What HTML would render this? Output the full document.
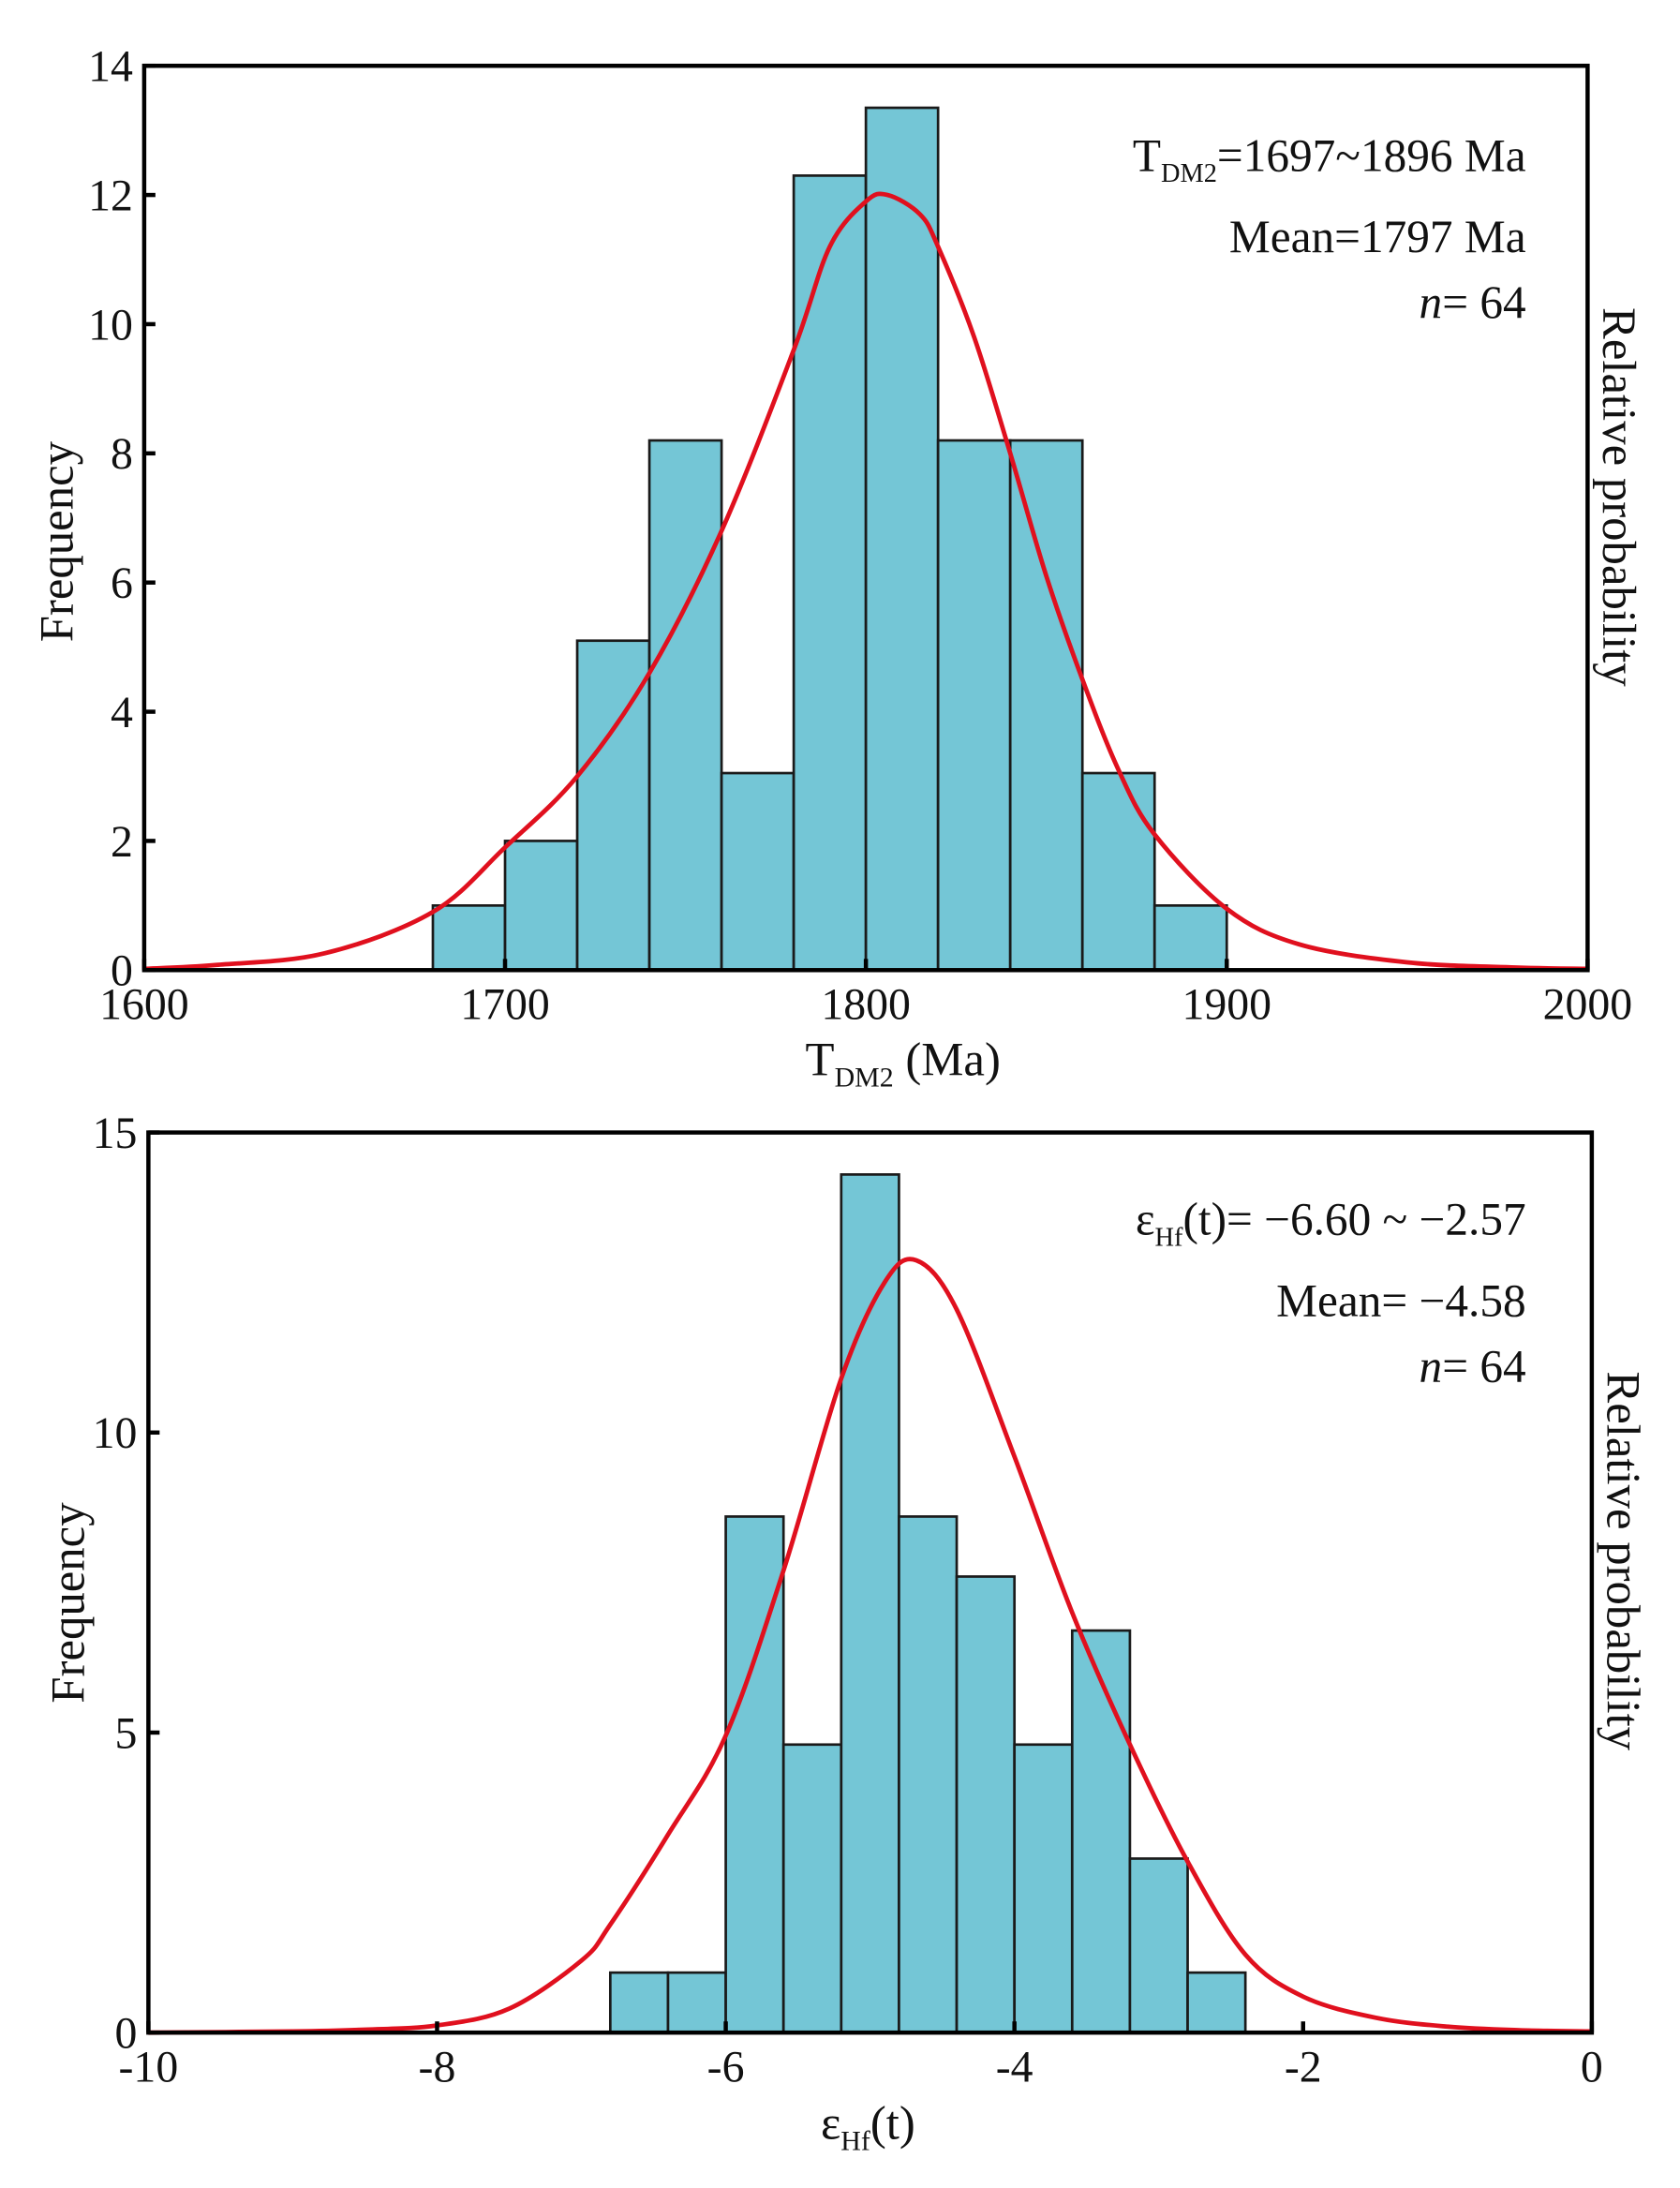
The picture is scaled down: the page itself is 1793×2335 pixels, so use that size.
<!DOCTYPE html>
<html><head><meta charset="utf-8"><style>
html,body{margin:0;padding:0;background:#fff}
svg{display:block}
text{font-family:"Liberation Serif",serif;fill:#111}
</style></head><body>
<svg id="fig" width="1793" height="2335" viewBox="0 0 1200 1563" preserveAspectRatio="none" xmlns="http://www.w3.org/2000/svg"></svg>
<script>
// ---- Panel A data (T_DM2)
const binsA = [1680,1700,1720,1740,1760,1780,1800,1820,1840,1860,1880];
const countsA = [1,2,5.1,8.2,3.05,12.3,13.35,8.2,8.2,3.05,1];
const curveAx = [1600,1620,1650,1680,1700,1720,1740,1760,1780,1790,1800,1806,1815,1820,1830,1840,1850,1860,1870,1880,1900,1920,1950,1980,2000];
const curveAy = [0.02,0.08,0.26,0.9,1.9,3.0,4.6,6.8,9.6,11.2,11.9,12.0,11.7,11.2,9.8,8.0,6.1,4.5,3.1,2.1,0.95,0.4,0.12,0.04,0.02];
const xticksA = [1600,1700,1800,1900,2000];
const yticksA = [0,2,4,6,8,10,12,14];
// ---- Panel B data (εHf(t))
const binsB = [-6.8,-6.4,-6.0,-5.6,-5.2,-4.8,-4.4,-4.0,-3.6,-3.2,-2.8];
const countsB = [1,1,8.6,4.8,14.3,8.6,7.6,4.8,6.7,2.9,1];
const curveBx = [-10,-9,-8.5,-8,-7.5,-7,-6.8,-6.4,-6,-5.6,-5.2,-4.9,-4.68,-4.4,-4.0,-3.6,-3.2,-2.8,-2.4,-2,-1.5,-1,-0.5,0];
const curveBy = [0,0.02,0.05,0.12,0.4,1.2,1.8,3.3,4.95,7.7,10.9,12.5,12.87,12.05,9.6,7.0,4.8,2.85,1.3,0.6,0.25,0.1,0.04,0.02];
const xticksB = [-10,-8,-6,-4,-2,0];
const yticksB = [0,5,10,15];

const NS="http://www.w3.org/2000/svg";
const svg=document.getElementById('fig');
function mk(tag,attrs,parent){const e=document.createElementNS(NS,tag);for(const k in attrs)e.setAttribute(k,attrs[k]);(parent||svg).appendChild(e);return e;}

function smoothPath(pts){
  let d='M'+pts[0][0].toFixed(2)+' '+pts[0][1].toFixed(2);
  for(let i=0;i<pts.length-1;i++){
    const p0=pts[Math.max(0,i-1)],p1=pts[i],p2=pts[i+1],p3=pts[Math.min(pts.length-1,i+2)];
    const c1x=p1[0]+(p2[0]-p0[0])/6,c1y=p1[1]+(p2[1]-p0[1])/6;
    const c2x=p2[0]-(p3[0]-p1[0])/6,c2y=p2[1]-(p3[1]-p1[1])/6;
    d+='C'+c1x.toFixed(2)+' '+c1y.toFixed(2)+' '+c2x.toFixed(2)+' '+c2y.toFixed(2)+' '+p2[0].toFixed(2)+' '+p2[1].toFixed(2);
  }
  return d;
}

function panel(o){
  const g=mk('g',{});
  
  
  const X=v=>o.L+(v-o.x0)/(o.x1-o.x0)*(o.R-o.L);
  const Y=v=>o.B-(v-o.y0)/(o.y1-o.y0)*(o.B-o.T);
  o.bins.forEach((b,i)=>{
    const r=mk('rect',{x:X(b),y:Y(o.counts[i]),width:X(b+o.bw)-X(b),height:Y(0)-Y(o.counts[i]),fill:'#74c6d6',stroke:'#1a1a1a','stroke-width':1.8},g);
    
    
  });
  const pts=o.cx.map((v,i)=>[X(v),Y(o.cy[i])]);
  const p=mk('path',{d:smoothPath(pts),fill:'none',stroke:'#e0101e','stroke-width':3.2,'stroke-linejoin':'round'},g);
  
  
  const f=mk('rect',{x:o.L,y:o.T,width:o.R-o.L,height:o.B-o.T,fill:'none',stroke:'#000','stroke-width':3},g);
  
  
  o.xt.forEach(v=>{
    mk('line',{x1:X(v),x2:X(v),y1:o.B,y2:o.B-8,stroke:'#000','stroke-width':3},g);
    const t=mk('text',{x:X(v),y:o.B+35,'font-size':32,'text-anchor':'middle'},g);
    t.textContent=v;
    
    
  });
  o.yt.forEach(v=>{
    mk('line',{x1:o.L,x2:o.L+8,y1:Y(v),y2:Y(v),stroke:'#000','stroke-width':3},g);
    const t=mk('text',{x:o.L-8,y:Y(v)+11,'font-size':32,'text-anchor':'end'},g);
    t.textContent=v;
    
    
  });
  return g;
}
panel({name:'tdm2-histogram',L:103,R:1134,T:47,B:693,x0:1600,x1:2000,y0:0,y1:14,bins:binsA,bw:20,counts:countsA,cx:curveAx,cy:curveAy,xt:xticksA,yt:yticksA});
panel({name:'ehf-histogram',L:106,R:1137,T:809,B:1452,x0:-10,x1:0,y0:0,y1:15,bins:binsB,bw:0.4,counts:countsB,cx:curveBx,cy:curveBy,xt:xticksB,yt:yticksB});
</script>
<script>
const s=document.getElementById('fig');
s.insertAdjacentHTML('beforeend',`
<text transform="translate(52,387) rotate(-90)" font-size="34" text-anchor="middle">Frequency</text>
<text transform="translate(1145,355) rotate(90)" font-size="34" text-anchor="middle">Relative probability</text>
<text x="645" y="768" font-size="34" text-anchor="middle">T<tspan font-size="20" dy="8">DM2</tspan><tspan dy="-8"> (Ma)</tspan></text>
<text x="1090" y="122" font-size="33" text-anchor="end">T<tspan font-size="19" dy="8">DM2</tspan><tspan dy="-8">=1697~1896 Ma</tspan></text>
<text x="1090" y="180" font-size="33" text-anchor="end">Mean=1797 Ma</text>
<text x="1090" y="227" font-size="33" text-anchor="end"><tspan font-style="italic">n</tspan>= 64</text>
<text transform="translate(60,1145) rotate(-90)" font-size="34" text-anchor="middle">Frequency</text>
<text transform="translate(1148,1115) rotate(90)" font-size="34" text-anchor="middle">Relative probability</text>
<text x="620" y="1528" font-size="34" text-anchor="middle">ε<tspan font-size="20" dy="8">Hf</tspan><tspan dy="-8">(t)</tspan></text>
<text x="1090" y="882" font-size="33" text-anchor="end">ε<tspan font-size="19" dy="8">Hf</tspan><tspan dy="-8">(t)= −6.60 ~ −2.57</tspan></text>
<text x="1090" y="940" font-size="33" text-anchor="end">Mean= −4.58</text>
<text x="1090" y="987" font-size="33" text-anchor="end"><tspan font-style="italic">n</tspan>= 64</text>
`);
</script>
</body></html>
